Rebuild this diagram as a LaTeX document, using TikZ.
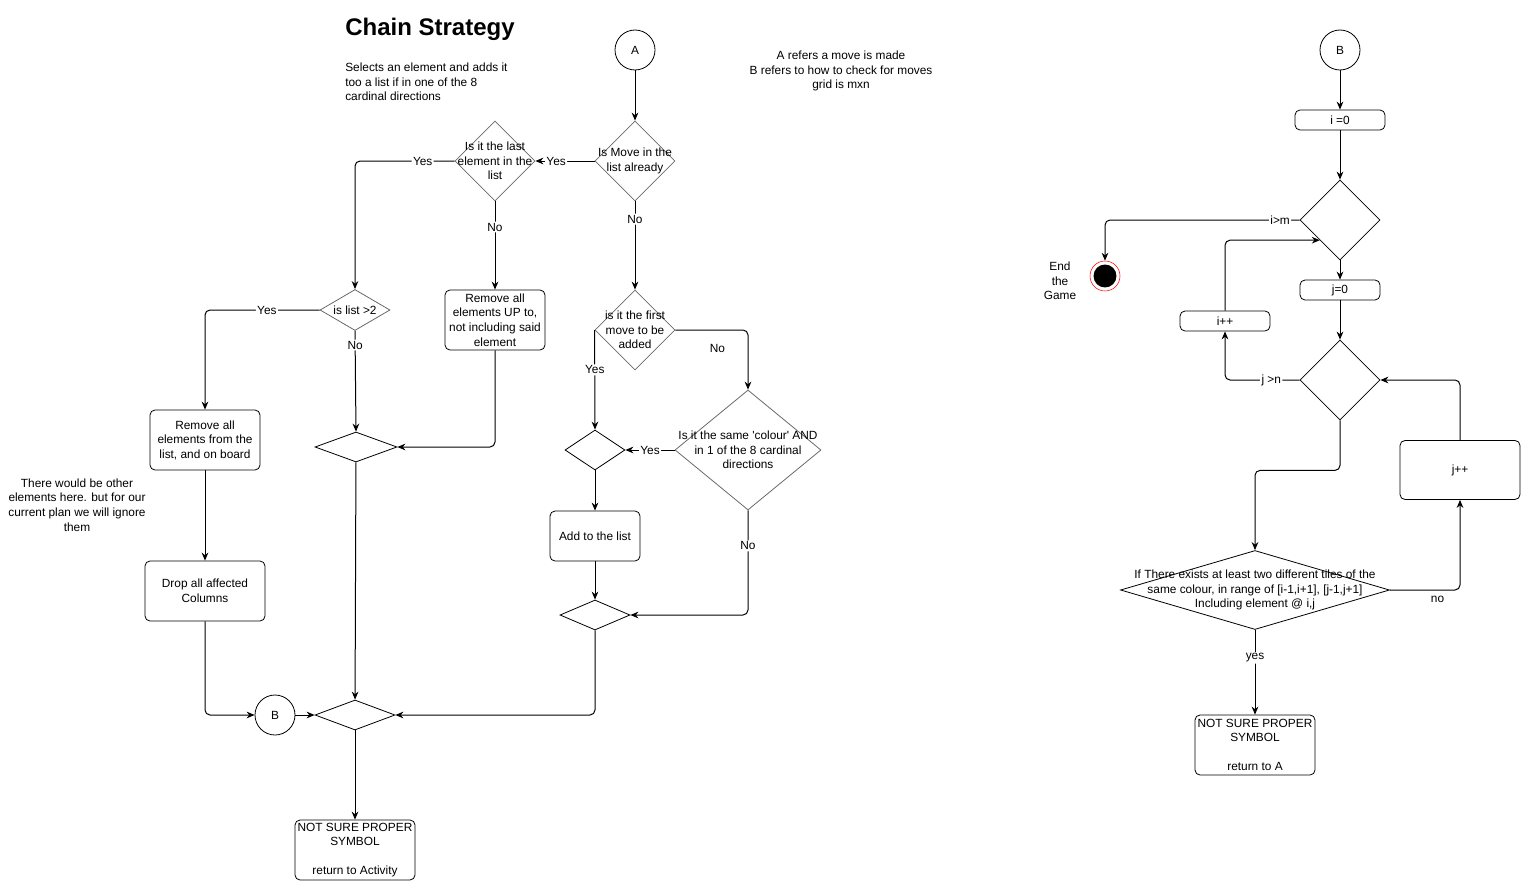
\documentclass[tikz,border=0pt]{standalone}
\usepackage{fontspec}
\setmainfont{Liberation Sans}
\usetikzlibrary{shapes.geometric, arrows.meta}
\newdimen\px \px=0.75pt
\definecolor{DiaGrey}{RGB}{105,105,105}
\definecolor{EndRed}{RGB}{255,0,0}

\begin{document}
\begin{tikzpicture}[x=0.75pt, y=-0.75pt, font=\fontsize{8.9pt}{10.9pt}\selectfont,
    arr/.style={-{Stealth[length=6pt, width=5pt]}, rounded corners=3.75pt, line width=0.75pt},
    box/.style={draw, rounded corners=3.75pt, align=center, inner sep=1pt, line width=0.6pt},
    dia/.style={diamond, draw=DiaGrey, inner sep=0pt, line width=0.6pt},
    merge/.style={diamond, draw, inner sep=0pt, line width=0.6pt},
    conn/.style={circle, draw, minimum size=30pt, inner sep=0pt, line width=0.6pt},
    dtxt/.style={label={[align=center]center:#1}},
    lbl/.style={fill=white, inner sep=1pt}]
    \useasboundingbox (0,0) rectangle (1521,881);

    % Chain strategy
    \node[font=\bfseries\fontsize{18pt}{21pt}\selectfont, anchor=west, inner sep=0pt] (title) at (345,29) {Chain Strategy};
    \node[anchor=west, align=left, inner sep=0pt] (desc) at (345,82) {Selects an element and adds it\\too a list if in one of the 8\\cardinal directions};
    \node[align=center] (note) at (841,71) {A refers a move is made\\B refers to how to check for moves\\grid is mxn};
    \node[align=center] (other) at (77,505) {There would be other\\elements here. but for our\\current plan we will ignore\\them};

    \node[conn] (a) at (635,50) {A};
    \node[dia, minimum width=80\px, minimum height=80\px, dtxt={Is Move in the\\list already}] (d1) at (635,161) {};
    \node[dia, minimum width=80\px, minimum height=80\px, dtxt={Is it the last\\element in the\\list}] (d2) at (495,161) {};
    \node[dia, minimum width=80\px, minimum height=80\px, dtxt={is it the first\\move to be\\added}] (d3) at (635,330) {};
    \node[dia, minimum width=70\px, minimum height=41\px, dtxt={is list >2}] (d4) at (355,310) {};
    \node[dia, minimum width=146\px, minimum height=120\px, dtxt={Is it the same \textquotesingle colour\textquotesingle\ AND\\in 1 of the 8 cardinal\\directions}] (d5) at (748,450) {};

    \node[box, minimum width=100\px, minimum height=60\px] (r1) at (495,320) {Remove all\\elements UP to,\\not including said\\element};
    \node[box, minimum width=110\px, minimum height=60\px] (r2) at (205,440) {Remove all\\elements from the\\list, and on board};
    \node[box, minimum width=120\px, minimum height=60\px] (r3) at (205,591) {Drop all affected\\Columns};
    \node[box, minimum width=90\px, minimum height=50\px] (r4) at (595,536) {Add to the list};

    \node[merge, minimum width=82\px, minimum height=30\px] (m1) at (356,447) {};
    \node[merge, minimum width=80\px, minimum height=30\px] (m2) at (355,715) {};
    \node[merge, minimum width=60\px, minimum height=40\px] (m3) at (595,450) {};
    \node[merge, minimum width=70\px, minimum height=30\px] (m4) at (595,615) {};

    \node[conn] (bl) at (275,715) {B};
    \node[box, minimum width=120\px, minimum height=60\px] (e1) at (355,850) {NOT SURE PROPER\\SYMBOL\\[10.9pt]return to Activity};

    \draw[arr] (a) -- (d1);
    \draw[arr] (d1.west) -- node[lbl, pos=0.65]{Yes} (d2.east);
    \draw[arr] (d2.west) -| node[lbl, pos=0.16]{Yes} (d4.north);
    \draw[arr] (d1.south) -- node[lbl, pos=0.2]{No} (d3.north);
    \draw[arr] (d2.south) -- node[lbl, pos=0.29]{No} (r1.north);
    \draw[arr] (d4.west) -| node[lbl, pos=0.23]{Yes} (r2.north);
    \draw[arr] (d4.south) -- node[lbl, pos=0.14]{No} (m1.north);
    \draw[arr] (r1.south) |- (m1.east);
    \draw[arr] (r2) -- (r3);
    \draw[arr] (r3.south) |- (bl.west);
    \draw[arr] (bl) -- (m2);
    \draw[arr] (m1) -- (m2);
    \draw[arr] (m2) -- (e1);
    \draw[arr] (d3.west) -- node[lbl, pos=0.4]{Yes} (m3.north);
    \draw[arr] (d3.east) -| node[below=6.75pt, pos=0.29]{No} (d5.north);
    \draw[arr] (d5.west) -- node[lbl]{Yes} (m3.east);
    \draw[arr] (m3) -- (r4);
    \draw[arr] (r4) -- (m4);
    \draw[arr] (d5.south) |- node[lbl, pos=0.17]{No} (m4.east);
    \draw[arr] (m4.south) |- (m2.east);

    % Checking for moves
    \node[conn] (br) at (1340,50) {B};
    \node[box, minimum width=90\px, minimum height=20\px] (i0) at (1340,120) {i =0};
    \node[merge, minimum width=80\px, minimum height=80\px] (d6) at (1340,220) {};
    \node[box, minimum width=80\px, minimum height=20\px] (j0) at (1340,290) {j=0};
    \node[merge, minimum width=80\px, minimum height=80\px] (d7) at (1340,380) {};
    \node[box, minimum width=90\px, minimum height=20\px] (ipp) at (1225,321) {i++};
    \node[box, minimum width=120\px, minimum height=59\px] (jpp) at (1460,470) {j++};
    \node[merge, minimum width=269\px, minimum height=79\px, dtxt={If There exists at least two different tiles of the\\same colour, in range of [i-1,i+1], [j-1,j+1]\\Including element @ i,j}] (d8) at (1255,590) {};
    \node[box, minimum width=120\px, minimum height=60\px] (e2) at (1255,745) {NOT SURE PROPER\\SYMBOL\\[10.9pt]return to A};
    \node[circle, draw=EndRed, fill=white, minimum size=22.5pt, inner sep=0pt,
          path picture={\fill[black] (path picture bounding box.center) circle (8.6pt);}] (endc) at (1105,276) {};
    \node[align=center] (endtxt) at (1060,281) {End\\the\\Game};

    \draw[arr] (br) -- (i0);
    \draw[arr] (i0) -- (d6);
    \draw[arr] (d6.west) -| node[lbl, pos=0.05]{i>m} (endc.north);
    \draw[arr] (d6) -- (j0);
    \draw[arr] (j0) -- (d7);
    \draw[arr] (d7.west) -| node[lbl, pos=0.19]{j >n} (ipp.south);
    \draw[arr] (ipp.north) |- (d6.south west);
    \draw[arr] (d7.south) -- ++(0,50) -| (d8.north);
    \draw[arr] (d8.east) -| node[below=0.75pt, pos=0.34]{no} (jpp.south);
    \draw[arr] (jpp.north) |- (d7.east);
    \draw[arr] (d8.south) -- node[lbl, pos=0.33]{yes} (e2.north);
\end{tikzpicture}
\end{document}
